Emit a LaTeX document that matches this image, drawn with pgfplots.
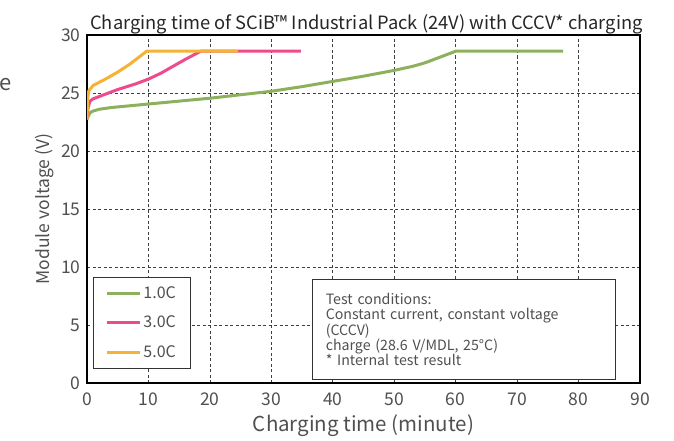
\documentclass[border=0pt]{standalone}
\usepackage{pgfplots}
\pgfplotsset{compat=1.18}
\usepackage{fontspec}
\setmainfont{Noto Sans CJK JP}
\definecolor{cgreen}{HTML}{8DB05C}
\definecolor{cpink}{HTML}{EE4A8E}
\definecolor{corange}{HTML}{F5B335}
\definecolor{ctext}{HTML}{505050}
\begin{document}
\begin{tikzpicture}
\useasboundingbox (0pt,0pt) rectangle (674pt,440pt);
\node[anchor=west,text=ctext,font=\fontsize{22}{24}\selectfont,inner sep=0] at (-1pt,355pt) {e};
\begin{axis}[
  at={(87pt,57pt)}, anchor=south west,
  scale only axis, width=553pt, height=348pt,
  xmin=0, xmax=90, ymin=0, ymax=30,
  xtick={0,10,...,90}, ytick={0,5,...,30},
  major tick length=0pt,
  grid=major,
  major grid style={black!75, line width=0.6pt, dash pattern=on 3pt off 2.5pt},
  axis line style={black, line width=1.3pt},
  /pgf/number format/assume math mode=true,
  tick label style={text=ctext, font=\fontsize{17.5}{19}\selectfont},
  xticklabel style={yshift=-6pt},
  yticklabel style={xshift=-3pt},
  xlabel={Charging time (minute)},
  ylabel={Module voltage (V)},
  xlabel style={text=ctext, font=\fontsize{20.5}{22}\selectfont, yshift=-2pt},
  ylabel style={text=ctext, font=\fontsize{17.5}{19}\selectfont, yshift=0pt},
  title={Charging time of SCiB™ Industrial Pack (24V) with CCCV* charging},
  title style={text=black!85, font=\fontsize{18.3}{20}\selectfont, yshift=-9pt, xshift=3pt},
  legend cell align=left,
  legend style={at={(0.011,0.304)}, anchor=north west, draw=black!80, line width=0.8pt,
    fill=white, font=\fontsize{16}{18}\selectfont, text=ctext,
    inner xsep=12pt, inner ysep=7pt, row sep=12pt},
  legend image code/.code={\draw[#1, line width=3pt] (9pt,0pt) -- (42pt,0pt);},
]
\addplot[cgreen, line width=3pt, line join=round] coordinates {
(0,22.7) (0.2,23.0) (0.5,23.3) (1,23.45) (2,23.6) (4,23.75) (7,23.9) (10,24.05)
(15,24.3) (20,24.55) (25,24.85) (30,25.15) (35,25.55) (40,26.0) (45,26.45)
(50,26.95) (53,27.3) (55,27.6) (57,28.0) (60,28.6) (77.5,28.6)};
\addlegendentry{1.0C}
\addplot[cpink, line width=3pt, line join=round] coordinates {
(0,22.9) (0.2,23.8) (0.5,24.3) (1,24.5) (3,24.9) (5,25.3) (8,25.8) (10,26.2)
(12,26.7) (14,27.3) (16,27.9) (18.5,28.6) (34.8,28.6)};
\addlegendentry{3.0C}
\addplot[corange, line width=3pt, line join=round] coordinates {
(0,22.8) (0.1,24.5) (0.3,25.2) (1,25.65) (3,26.2) (5,26.8) (7,27.5) (9.7,28.6) (24.6,28.6)};
\addlegendentry{5.0C}
\node[anchor=north west, draw=black!80, line width=0.8pt, fill=white,
  text=ctext, font=\fontsize{14.2}{15.3}\selectfont, align=left,
  minimum width=303pt, minimum height=100pt, inner xsep=13pt, inner ysep=7pt,
  text width=276pt]
  at (axis cs:36.6,8.95) {Test conditions:\\Constant current, constant voltage\\(CCCV)\\charge (28.6 V/MDL, 25°C)\\{*} Internal test result\\[-4pt]};
\end{axis}
\end{tikzpicture}
\end{document}
